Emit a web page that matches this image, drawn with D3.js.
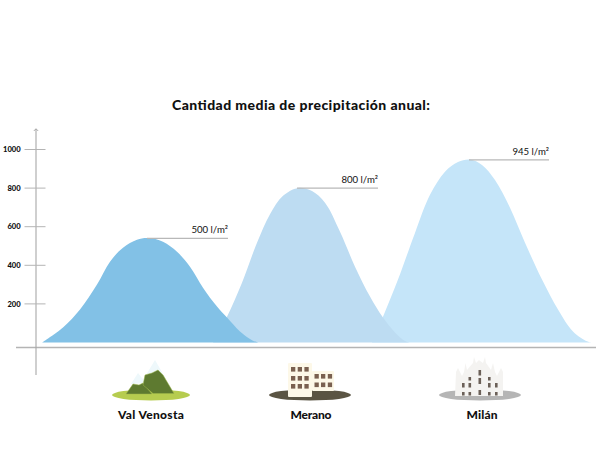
<!DOCTYPE html>
<html><head><meta charset="utf-8">
<script src="https://cdn.jsdelivr.net/npm/d3@7"></script>
<style>html,body{margin:0;background:#fff}svg{display:block}text{font-family:Lato,sans-serif;fill:#111}</style>
</head><body><svg id="c" width="600" height="450"></svg>
<script>
const title = "Cantidad media de precipitación anual:";
const ticks = [200,400,600,800,1000];
const places = ["Val Venosta","Merano","Milán"];
const placeX = [151,311,482];
const placeW = [66,41,31];
const peakLabels = ["500 l/m²","800 l/m²","945 l/m²"];
const colors = ["#82c1e6","#bddcf2","#c5e5f9"];
const xsA = [42,63,80,97,110,123,137,148,163,177,190,203,217,227,240,252,258];
const vsA = [0,78,171,300,419,491,532,541,522,470,393,284,186,129,57,12,0];
const xsB = [213,227,242,257,270,283,298,312,325,340,355,370,383,395,405,410];
const vsB = [0,134,310,517,665,760,801,785,724,574,393,238,129,52,8,0];
const xsC = [372,383,398,415,430,445,458,470,482,495,510,525,542,558,573,587,591];
const vsC = [0,134,326,568,765,885,935,948,920,842,698,517,326,171,57,6,0];
const series = [[xsC,vsC,2],[xsB,vsB,1],[xsA,vsA,0]];
const lineEnds = [228,378,549];

const svg = d3.select("#c");
const x = d3.scaleLinear().domain([0,600]).range([0,600]);
const y = d3.scaleLinear().domain([0,1000]).range([342.5,149.5]);
const area = d3.area().x(d=>x(d[0])).y0(y(0)).y1(d=>y(d[1])).curve(d3.curveCatmullRom.alpha(0.5));
series.forEach(([xs,vs,i])=>{
  svg.append("path").attr("d",area(xs.map((v,k)=>[v,vs[k]]))).attr("fill",colors[i]);
});
series.forEach(([xs,vs,i])=>{
  const k = vs.indexOf(d3.max(vs));
  const ly = y(vs[k]) + 0.3;
  svg.append("line").attr("x1",x(xs[k])-1).attr("x2",lineEnds[i]).attr("y1",ly).attr("y2",ly).attr("stroke","#b8b8b8").attr("stroke-width",1.2);
  svg.append("text").attr("x",lineEnds[i]).attr("y",ly-5).attr("text-anchor","end").attr("font-size",9.6).text(peakLabels[i]);
});
const g = svg.append("g");
g.append("line").attr("x1",16).attr("x2",596).attr("y1",347.5).attr("y2",347.5).attr("stroke","#b4b4b4").attr("stroke-width",1.3);
g.append("line").attr("x1",36).attr("x2",36).attr("y1",129).attr("y2",375).attr("stroke","#a8a8a8").attr("stroke-width",1.1);
g.append("path").attr("d","M33.8,131 L36,128.7 L38.2,131").attr("fill","none").attr("stroke","#999").attr("stroke-width",.8);
ticks.forEach(t=>{
  g.append("line").attr("x1",24.5).attr("x2",45.5).attr("y1",y(t)).attr("y2",y(t)).attr("stroke","#b4b4b4").attr("stroke-width",1);
  g.append("text").attr("x",20.7).attr("y",y(t)+2.6).attr("text-anchor","end").attr("font-size",7.6).attr("font-weight",900).text(t);
});
svg.append("text").attr("x",172).attr("y",110).attr("font-size",14).attr("font-weight",900).attr("textLength",258).attr("lengthAdjust","spacing").text(title);
places.forEach((p,i)=>svg.append("text").attr("x",placeX[i]-placeW[i]/2).attr("y",418.5).attr("font-size",12).attr("font-weight",900).attr("textLength",placeW[i]).attr("lengthAdjust","spacing").text(p));

// Val Venosta icon
svg.append("ellipse").attr("cx",151).attr("cy",395).attr("rx",39).attr("ry",5.5).attr("fill","#b6cc4f");
svg.append("path").attr("d","M131,384 L138,373 L146,383 Z").attr("fill","#eef8fb");
svg.append("path").attr("d","M143,380 L155,360 L166,379 Z").attr("fill","#eef8fb");
svg.append("path").attr("d","M126,394 L133,384 L139,385 L143,383 L152,394 Z").attr("fill","#5e7a30").attr("stroke","#9db64a").attr("stroke-width",.5);
svg.append("path").attr("d","M143,385 L145,375 L152,373 L158,370 L163,375 L174,393.5 L153,393.5 Z").attr("fill","#5e7a30").attr("stroke","#9db64a").attr("stroke-width",.5);

// Merano icon
svg.append("ellipse").attr("cx",310).attr("cy",395).attr("rx",41).attr("ry",5.5).attr("fill","#5a5443");
svg.append("rect").attr("x",288).attr("y",363).attr("width",24).attr("height",34).attr("rx",1).attr("fill","#fdf8e8");
svg.append("rect").attr("x",312).attr("y",371).attr("width",22).attr("height",20).attr("rx",1).attr("fill","#fdf8e8");
[[291,367],[297.7,367],[304.4,367],[291,376],[297.7,376],[304.4,376],[291,384],[297.7,384],[304.4,384],[314.5,374],[321,374],[327.8,374],[314.5,382.5],[321,382.5],[327.8,382.5]].forEach(d=>{
  svg.append("rect").attr("x",d[0]).attr("y",d[1]).attr("width",4.3).attr("height",4.6).attr("fill","#7a6050");
});

// Milán icon
svg.append("ellipse").attr("cx",480).attr("cy",395).attr("rx",41).attr("ry",5.5).attr("fill","#b5b5b5");
svg.append("path").attr("d","M455,396 L456,372 L458,368 L460,372 L462,376 L464,372 L465.5,363 L467,370 L473,363 L474,357 L476,363 L479,360 L480,361 L483,363 L485,357 L486,363 L491,370 L493,363 L495,372 L497,376 L499,372 L501,368 L503,372 L503,396 Z").attr("fill","#f4f3f1");
[[462,383,4.5],[468.5,383,4.5],[478.5,370,5.5],[478.5,378,6],[478.5,390,5],[488,383,4.5],[495,383,4.5],[468.5,377,3.5],[488,377,3.5],[462,392,3.5],[468.5,392,3.5],[488,392,3.5],[495,392,3.5]].forEach(d=>{
  svg.append("rect").attr("x",d[0]).attr("y",d[1]).attr("width",2.6).attr("height",d[2]).attr("fill","#6b6058");
});
</script></body></html>
